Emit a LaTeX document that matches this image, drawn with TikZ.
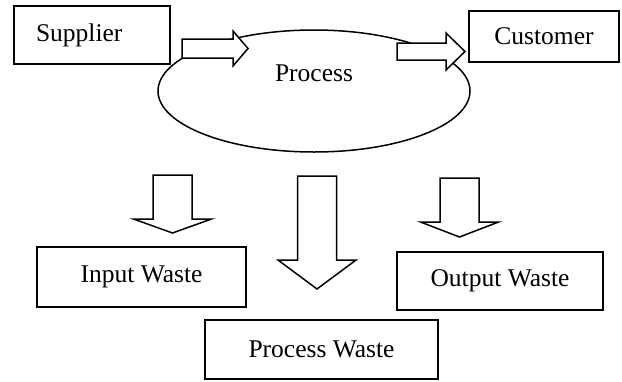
\documentclass[tikz,border=0pt]{standalone}
\usepackage{fontspec}
\setmainfont{Liberation Serif}
\usepackage{tikz}
\usetikzlibrary{calc}
\usetikzlibrary{shapes.geometric, positioning}

\newcommand{\boxfont}{\fontsize{25.5}{30}\selectfont}
% tail, angle, shaft half width, head base, head half width, tip
\newcommand{\fatarrow}[6]{%
  \draw[fat arrow,shift={(#1)},rotate=#2]
    (0,-#3) -- (#4,-#3) -- (#4,-#5) -- (#6,0) -- (#4,#5) -- (#4,#3) -- (0,#3) -- cycle;}

\begin{document}
\begin{tikzpicture}[x=1pt,y=-1pt,
                    box node/.style={draw,line width=1.5pt,font=\boxfont,inner sep=0pt},
                    fat arrow/.style={draw,line width=1.5pt,fill=white,line join=miter}]
\useasboundingbox (0,0) rectangle (622,381);

\node[box node,minimum width=156pt,minimum height=58pt,text width=112pt,align=left] (Supplier) at (92,35) {Supplier};
\node[box node,minimum width=150pt,minimum height=51pt] (Customer) at (544,36.5) {Customer};

\node[ellipse,draw,line width=1.5pt,minimum width=312pt,minimum height=122pt,inner sep=0pt] (Process) at (314,91) {};
\node[font=\boxfont] (ProcessLabel) [shift={(0,-18)}] at (Process) {Process};

\node[box node,minimum width=209pt,minimum height=60pt] (InputWaste) at (141.5,277) {Input Waste};
\node[box node,minimum width=206pt,minimum height=58pt] (OutputWaste) at (500,281) {Output Waste};
\node[box node,minimum width=233pt,minimum height=59pt] (ProcessWaste) at (321.5,349.5) {Process Waste};

% arrow tails
\coordinate (SupplyTail) at (182,48.5);
\coordinate (DeliverTail) at (397,51.5);
\coordinate (InTail) at (172.5,175);
\coordinate (ProcTail) at (317,176);
\coordinate (OutTail) at (459.5,178);

\fatarrow{SupplyTail}{0}{9.5}{51}{17.5}{66}
\fatarrow{DeliverTail}{0}{8.5}{49}{18.5}{68}

\foreach \t/\base/\tip in {InTail/44/58, ProcTail/84/113, OutTail/44/59}
   {\fatarrow{\t}{-90}{19.5}{\base}{39}{\tip}}

\end{tikzpicture}
\end{document}
